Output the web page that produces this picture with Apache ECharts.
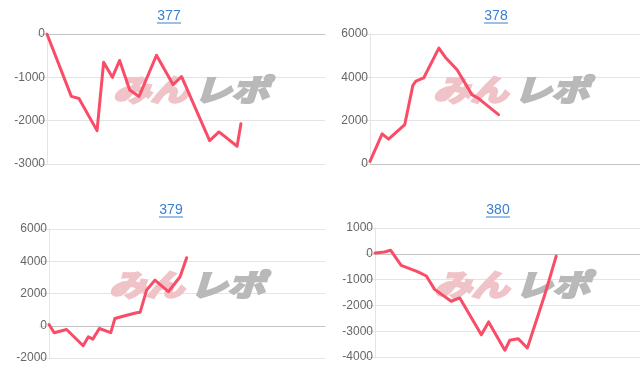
<!DOCTYPE html>
<html>
<head>
<meta charset="utf-8">
<script src="https://cdn.jsdelivr.net/npm/echarts@6/dist/echarts.min.js"></script>
<style>
html,body{margin:0;padding:0;background:#fff;}
#chart{width:640px;height:372px;}
</style>
</head>
<body>
<div id="chart"></div>
<script>
// Titles (machine numbers)
var titles = ['377', '378', '379', '380'];

// Game counts (x) and coin difference (y) per machine
var games377 = [0, 700, 920, 1440, 1630, 1880, 2090, 2380, 2650, 3150, 3630, 3870, 4680, 4950, 5470, 5580];
var diff377  = [0, -1440, -1490, -2230, -650, -1000, -610, -1290, -1440, -490, -1170, -980, -2460, -2260, -2590, -2070];

var games378 = [0, 360, 550, 1030, 1270, 1360, 1590, 2040, 2230, 2580, 3020, 3220, 3810];
var diff378  = [120, 1390, 1150, 1820, 3630, 3820, 3970, 5350, 4930, 4350, 3200, 3020, 2280];

var games379 = [0, 150, 510, 990, 1140, 1270, 1460, 1790, 1910, 2200, 2540, 2640, 2830, 3070, 3460, 3800, 3990];
var diff379  = [80, -430, -230, -1240, -680, -830, -170, -430, 450, 620, 810, 830, 2210, 2830, 2110, 3040, 4220];

var games380 = [0, 290, 470, 790, 1300, 1550, 1800, 2300, 2560, 3210, 3430, 3920, 4070, 4320, 4600, 5120, 5300, 5470];
var diff380  = [30, 70, 140, -450, -700, -860, -1380, -1840, -1710, -3140, -2640, -3740, -3350, -3290, -3650, -1610, -830, -90];

// Y axis ranges [min, max, interval]
var yRanges = [[-3000, 0, 1000], [0, 6000, 2000], [-2000, 6000, 2000], [-4000, 1000, 1000]];
var xMax = 8000;

var allGames = [games377, games378, games379, games380];
var allDiff = [diff377, diff378, diff379, diff380];

var grids = [
  {left: 47, top: 34, width: 278, height: 130},
  {left: 370, top: 34, width: 270, height: 130},
  {left: 49, top: 229, width: 276, height: 129},
  {left: 375, top: 228, width: 265, height: 129}
];
var titlePos = [[169, 16], [496, 16], [171, 210], [498, 210]];
var markPos = [[190, 90], [510, 90], [186, 285], [511, 285]];

var gridColor = '#e4e4e4';
var lineColor = '#f84c67';
var font = '"Liberation Sans", Arial, sans-serif';

var xAxes = [], yAxes = [], series = [], graphics = [];
for (var i = 0; i < 4; i++) {
  xAxes.push({
    gridIndex: i, type: 'value', min: 0, max: xMax,
    axisLine: {show: true, onZero: true, lineStyle: {color: '#c4c4c4', width: 1}},
    axisTick: {show: false}, axisLabel: {show: false}, splitLine: {show: false}
  });
  yAxes.push({
    gridIndex: i, type: 'value',
    min: yRanges[i][0], max: yRanges[i][1], interval: yRanges[i][2],
    axisLine: {show: true, lineStyle: {color: gridColor, width: 1}},
    axisTick: {show: true, length: 10, lineStyle: {color: gridColor}},
    axisLabel: {margin: 2, fontSize: 12, color: '#666', fontFamily: font,
                formatter: function (v) { return String(v); }},
    splitLine: {show: true, lineStyle: {color: gridColor, width: 1}}
  });
  var pts = [];
  for (var k = 0; k < allGames[i].length; k++) pts.push([allGames[i][k], allDiff[i][k]]);
  series.push({
    type: 'line', xAxisIndex: i, yAxisIndex: i, data: pts,
    showSymbol: false, symbol: 'none', smooth: false, z: 5,
    lineStyle: {color: lineColor, width: 3, cap: 'round', join: 'round'}
  });
  // title + underline
  graphics.push({
    type: 'text', x: titlePos[i][0], y: titlePos[i][1], z: 10,
    style: {text: titles[i], align: 'center', verticalAlign: 'middle',
            font: '14px ' + font, fill: '#3a80d2'}
  });
  graphics.push({
    type: 'line', z: 10,
    shape: {x1: titlePos[i][0] - 12, y1: titlePos[i][1] + 7, x2: titlePos[i][0] + 12, y2: titlePos[i][1] + 7},
    style: {stroke: '#3a80d2', lineWidth: 1}
  });
  // watermark
  graphics.push({
    type: 'text', x: markPos[i][0] - 2, y: markPos[i][1], scaleX: 1.25, z: 1,
    style: {text: 'みん', align: 'right', verticalAlign: 'middle',
            font: 'italic bold 30px "Noto Sans CJK JP"', fill: '#efc3c7',
            stroke: '#efc3c7', lineWidth: 2.5}
  });
  graphics.push({
    type: 'text', x: markPos[i][0] + 4, y: markPos[i][1], scaleX: 1.25, z: 1,
    style: {text: 'レポ', align: 'left', verticalAlign: 'middle',
            font: 'italic bold 30px "Noto Sans CJK JP"', fill: '#b9b9b9',
            stroke: '#b9b9b9', lineWidth: 2.5}
  });
}

var chart = echarts.init(document.getElementById('chart'), null, {renderer: 'canvas'});
chart.setOption({
  animation: false,
  backgroundColor: '#fff',
  grid: grids,
  xAxis: xAxes,
  yAxis: yAxes,
  series: series,
  graphic: graphics
});
</script>
</body>
</html>
